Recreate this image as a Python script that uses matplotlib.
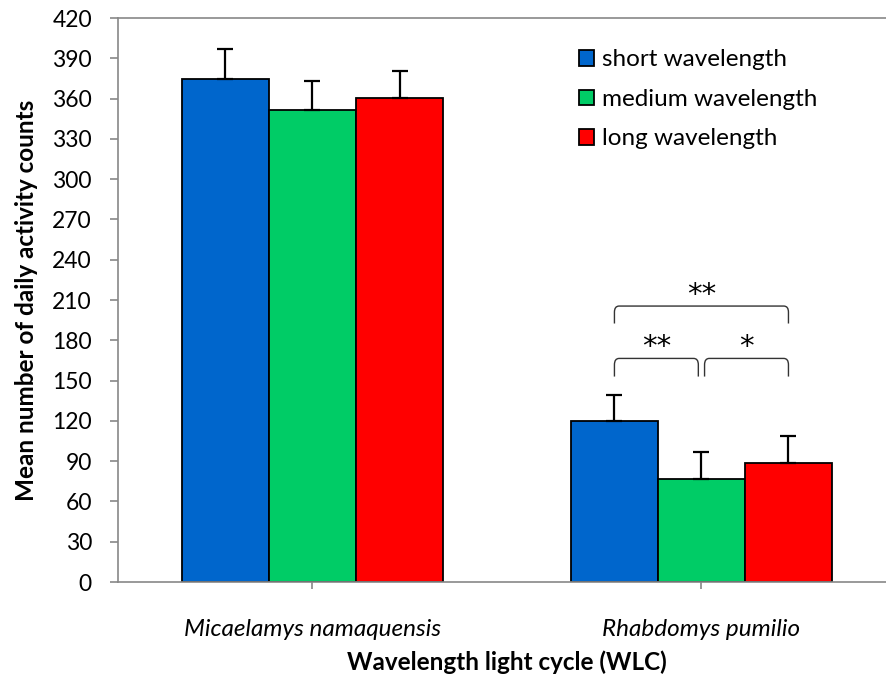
import matplotlib.pyplot as plt
import numpy as np
from matplotlib.path import Path
from matplotlib.patches import PathPatch

plt.rcParams['font.family'] = ['Lato', 'DejaVu Sans']

species = ['Micaelamys namaquensis', 'Rhabdomys pumilio']
conditions = ['short wavelength', 'medium wavelength', 'long wavelength']
colors = ['#0066CC', '#00CC66', '#FF0000']

short_wl = [374.5, 120]
medium_wl = [351.5, 77]
long_wl = [360.5, 89]
short_err = [22.5, 19.5]
medium_err = [21.5, 19.5]
long_err = [20, 19.5]

yticks = np.arange(0, 421, 30)

# significance for Rhabdomys: (bar a, bar b, stars)
sig_pairs = [(0, 1, '**'), (1, 2, '*'), (0, 2, '**')]

values = [short_wl, medium_wl, long_wl]
errors = [short_err, medium_err, long_err]

fig = plt.figure(figsize=(8.86, 6.77), dpi=100)
ax = fig.add_axes([0.1332, 0.1403, 0.878, 0.8331])

x = np.arange(len(species))
w = 0.2237
for i in range(3):
    ax.bar(x + (i - 1) * w, values[i], w, color=colors[i], edgecolor='black',
           linewidth=1.3, label=conditions[i], zorder=2)
    ax.errorbar(x + (i - 1) * w, values[i], yerr=[np.zeros(2), errors[i]],
                fmt='none', ecolor='black', elinewidth=1.6, capsize=6,
                capthick=1.6, zorder=3)

ax.set_xlim(-0.5, 1.5)
ax.set_ylim(0, 420)
ax.set_yticks(yticks)
ax.set_xticks(x)
ax.set_xticklabels(species, fontstyle='italic', fontsize=17.5)
ax.tick_params(axis='y', labelsize=16.5, length=5.8, color='#888888',
               width=1.2, pad=13)
ax.tick_params(axis='x', length=5, color='#888888', width=1.2, pad=21.5)
for s in ['left', 'bottom', 'top']:
    ax.spines[s].set_color('#888888')
    ax.spines[s].set_linewidth(1.2)
ax.spines['right'].set_visible(False)

ax.set_ylabel('Mean number of daily activity counts', fontsize=17.5,
              fontweight='bold', labelpad=10)
ax.set_xlabel('Wavelength light cycle (WLC)', fontsize=17.5, fontweight='bold',
              labelpad=7.5)

# brackets with stars over the second species
def bracket(x0, x1, ybase, ytop, label):
    r = 0.012
    h = (ytop - ybase) * 0.35
    verts = [(x0, ybase), (x0, ytop - h), (x0, ytop), (x0 + r, ytop),
             (x1 - r, ytop), (x1, ytop), (x1, ytop - h), (x1, ybase)]
    codes = [Path.MOVETO, Path.LINETO, Path.CURVE3, Path.CURVE3,
             Path.LINETO, Path.CURVE3, Path.CURVE3, Path.LINETO]
    ax.add_patch(PathPatch(Path(verts, codes), fill=False, edgecolor='#333333',
                           linewidth=1.0, zorder=3))
    ax.text((x0 + x1) / 2, ytop + 2.5, label, ha='center', va='baseline',
            fontsize=21, family='DejaVu Sans')

g = 1
for a, b, lab in sig_pairs:
    xa = g + (a - 1) * w
    xb = g + (b - 1) * w
    if b - a == 1:
        if a == 0:
            xb -= 0.008
        else:
            xa += 0.008
        bracket(xa, xb, 153, 166.5, lab)
    else:
        bracket(xa, xb, 192.5, 205.5, lab)

ax.legend(loc='upper left', bbox_to_anchor=(0.565, 0.983), frameon=False,
          fontsize=17.5, handlelength=0.6, handleheight=0.6,
          handletextpad=0.35, labelspacing=0.76)

fig.savefig('out.png', dpi=100)
